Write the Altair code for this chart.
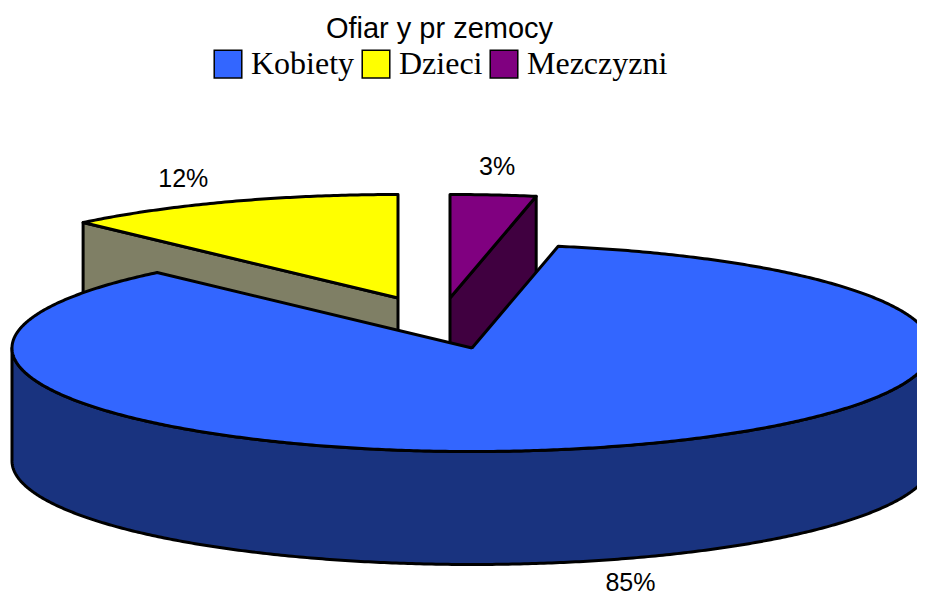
import math
import altair as alt
import pandas as pd

categories = ["Kobiety", "Dzieci", "Mezczyzni"]
shares = [85, 12, 3]
labels = ["85%", "12%", "3%"]
top_colors = ["#3366FF", "#FFFF00", "#800080"]
side_colors = ["#19337F", "#7F7F65", "#400040"]

# Pie geometry (page pixels): where each exploded slice's apex sits, and the ellipse
apex = [(472, 348), (398, 298), (450, 298)]
RX, RY, DEPTH = 460, 103.5, 113
START = 10.8  # degrees clockwise from the top where the first slice begins
LABEL_R = 1.25
label_dx = [-2, -3, -7]
label_dy = [-2, 1, -2]

VIEW_TOP, VIEW_BOTTOM, VIEW_LEFT, VIEW_RIGHT = 90, 596, 8, 917


def pt(c, deg, drop=0):
    a = math.radians(deg)
    return (c[0] + RX * math.sin(a), c[1] - RY * math.cos(a) + drop)


def arc(c, a0, a1, drop=0):
    n = max(2, int(abs(a1 - a0) * 2))
    return [pt(c, a0 + (a1 - a0) * i / n, drop) for i in range(n + 1)]


spans = []
a = START
for s in shares:
    spans.append((a, a + s * 3.6))
    a += s * 3.6


def frame(points, name):
    closed = points + [points[0]]
    return pd.DataFrame(
        {"px": [p[0] for p in closed], "py": [p[1] for p in closed],
         "i": range(len(closed)), "cat": name}
    )


x_scale = alt.Scale(domain=[VIEW_LEFT, VIEW_RIGHT], nice=False, zero=False)
y_scale = alt.Scale(domain=[VIEW_BOTTOM, VIEW_TOP], nice=False, zero=False)
X = alt.X("px:Q", scale=x_scale, axis=None)
Y = alt.Y("py:Q", scale=y_scale, axis=None)
line_style = dict(stroke="black", strokeWidth=3, clip=True, strokeJoin="round")


def side(points, color):
    return (
        alt.Chart(frame(points, "side"))
        .mark_line(fill=color, **line_style)
        .encode(x=X, y=Y, order=alt.Order("i:Q"))
    )


def top(idx):
    c = apex[idx]
    a0, a1 = spans[idx]
    return (
        alt.Chart(frame([c] + arc(c, a0, a1), categories[idx]))
        .mark_line(**line_style)
        .encode(
            x=X, y=Y, order=alt.Order("i:Q"),
            fill=alt.Fill(
                "cat:N",
                scale=alt.Scale(domain=categories, range=top_colors),
                sort=categories,
                legend=alt.Legend(
                    title=None, orient="none", legendX=204, legendY=-42,
                    direction="horizontal", columns=3, symbolType="square",
                    symbolSize=760, symbolStrokeColor="black", symbolStrokeWidth=1.5,
                    labelFont="Liberation Serif", labelFontSize=32, labelColor="black",
                    labelOffset=7, columnPadding=4, labelLimit=300,
                ),
            ),
        )
    )


def cut_face(idx, deg):
    c = apex[idx]
    e = pt(c, deg)
    return side([c, e, (e[0], e[1] + DEPTH), (c[0], c[1] + DEPTH)], side_colors[idx])


blue_c = apex[0]
wall = side(arc(blue_c, 90, 270) + arc(blue_c, 270, 90, DEPTH), side_colors[0])

label_layers = []
for i, lab in enumerate(labels):
    c = apex[i]
    mid = sum(spans[i]) / 2
    a = math.radians(mid)
    lx = c[0] + LABEL_R * RX * math.sin(a)
    ly = c[1] - LABEL_R * RY * math.cos(a) + (DEPTH if math.cos(a) < 0 else 0)
    label_layers.append(
        alt.Chart(pd.DataFrame({"px": [lx], "py": [ly], "t": [lab]}))
        .mark_text(font="Liberation Sans", fontSize=25, color="black",
                   dx=label_dx[i], dy=label_dy[i])
        .encode(x=X, y=Y, text="t:N")
    )

chart = (
    alt.layer(
        cut_face(1, spans[1][0]),
        top(1),
        cut_face(2, spans[2][1]),
        top(2),
        wall,
        top(0),
        *label_layers,
    )
    .properties(
        width=VIEW_RIGHT - VIEW_LEFT,
        height=VIEW_BOTTOM - VIEW_TOP,
        padding={"left": 0, "right": 0, "top": VIEW_TOP - 8, "bottom": 0},
        autosize=alt.AutoSizeParams(type="none"),
        title=alt.TitleParams(
            "Ofiar y pr zemocy", font="Liberation Sans", fontSize=29, fontWeight="normal",
            color="black", anchor="middle", dx=-23, offset=4,
        ),
    )
    .configure_view(stroke=None)
)

chart.save("out.html", embed_options={"renderer": "svg", "actions": False})
